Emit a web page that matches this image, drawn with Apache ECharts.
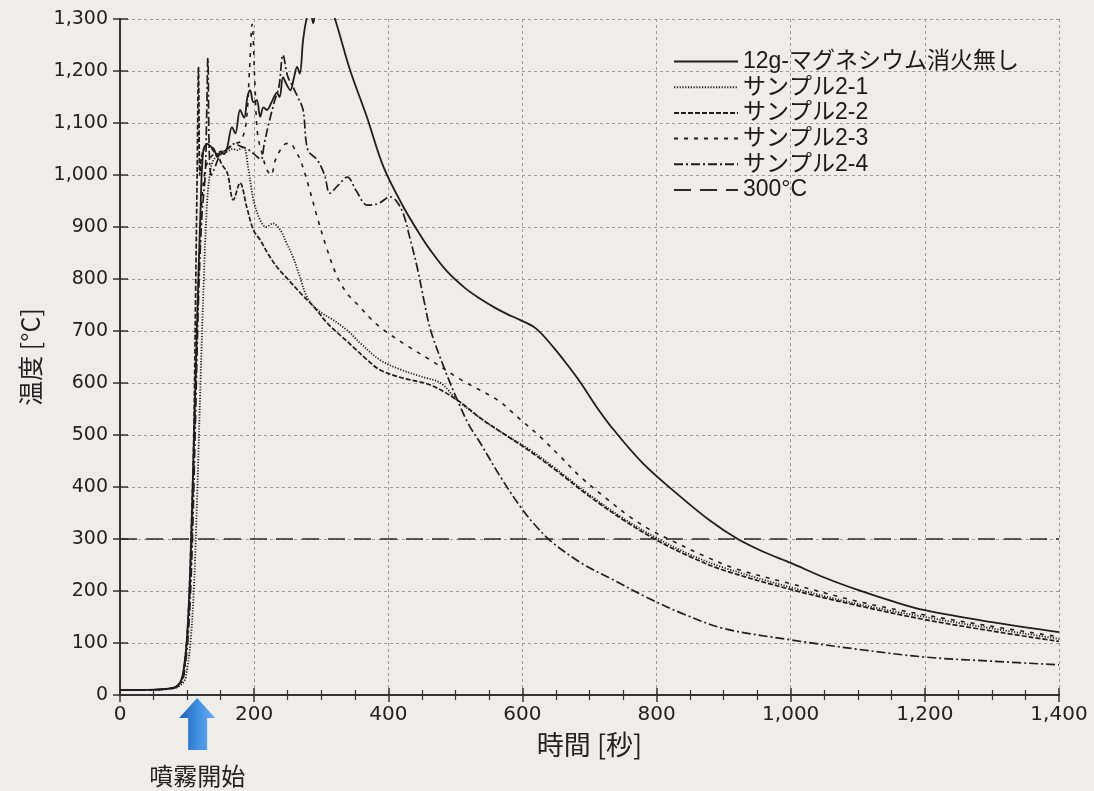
<!DOCTYPE html>
<html>
<head>
<meta charset="utf-8">
<script src="https://cdn.jsdelivr.net/npm/echarts@6/dist/echarts.min.js"></script>
<style>
  html, body { margin: 0; padding: 0; background: #eeede9; }
  #chart { width: 1094px; height: 791px; }
</style>
</head>
<body>
<div id="chart"></div>
<script>
// 12g-マグネシウム消火無し
var tNone = [0, 40, 80, 90, 95, 100, 105, 110, 115, 120, 124, 130, 135, 140, 145, 150, 155, 160, 167, 172, 179, 185, 190, 194, 199, 204, 209, 214, 219, 226, 234, 238, 243, 248, 254, 259, 264, 268, 273, 278, 283, 288, 293, 300, 310, 321, 343, 368, 393, 422, 445, 463, 488, 515, 537, 560, 578, 597, 620, 646, 667, 687, 710, 736, 780, 836, 880, 921, 960, 1000, 1050, 1100, 1150, 1200, 1300, 1400];
var vNone = [10, 10, 14, 25, 50, 110, 250, 480, 720, 930, 1045, 1060, 1055, 1050, 1035, 1045, 1040, 1054, 1092, 1080, 1125, 1110, 1150, 1163, 1140, 1144, 1112, 1130, 1125, 1140, 1158, 1150, 1188, 1175, 1163, 1185, 1208, 1195, 1260, 1300, 1320, 1292, 1330, 1340, 1335, 1298, 1202, 1112, 1015, 940, 890, 855, 814, 782, 762, 744, 732, 721, 705, 669, 635, 600, 555, 510, 445, 381, 335, 300, 275, 254, 226, 202, 181, 163, 140, 121];

// サンプル2-1
var t21 = [0, 40, 80, 95, 100, 105, 110, 115, 120, 125, 130, 135, 140, 150, 160, 168, 175, 184, 191, 199, 209, 218, 228, 239, 248, 258, 268, 279, 295, 318, 340, 358, 388, 420, 450, 478, 503, 540, 575, 612, 650, 700, 750, 800, 850, 900, 1000, 1100, 1200, 1300, 1400];
var v21 = [10, 10, 13, 25, 50, 100, 200, 380, 600, 800, 950, 1010, 1030, 1040, 1045, 1050, 1048, 1054, 1015, 952, 913, 900, 907, 894, 870, 842, 805, 765, 740, 721, 700, 677, 644, 625, 612, 600, 567, 530, 500, 471, 435, 385, 340, 302, 270, 245, 207, 175, 150, 128, 108];

// サンプル2-2
var t22 = [0, 40, 80, 92, 97, 102, 107, 110, 113, 115, 117, 119, 121, 125, 130, 135, 140, 145, 152, 160, 169, 179, 189, 199, 209, 220, 234, 250, 269, 290, 309, 330, 348, 368, 388, 420, 463, 503, 540, 575, 612, 650, 700, 750, 800, 850, 900, 1000, 1100, 1200, 1300, 1400];
var v22 = [10, 10, 14, 30, 70, 160, 350, 500, 800, 1000, 1208, 1000, 1030, 1050, 1060, 1055, 1045, 1040, 1020, 1004, 952, 985, 938, 894, 875, 850, 823, 800, 773, 745, 715, 690, 669, 645, 625, 610, 596, 567, 530, 500, 468, 432, 382, 337, 298, 266, 240, 203, 172, 145, 123, 103];

// サンプル2-3
var t23 = [0, 40, 80, 92, 97, 102, 107, 112, 117, 122, 127, 133, 140, 150, 160, 170, 180, 188, 193, 197, 201, 205, 212, 219, 225, 232, 240, 247, 254, 262, 269, 282, 294, 308, 324, 340, 358, 375, 393, 430, 463, 510, 563, 595, 627, 657, 687, 725, 761, 790, 821, 870, 920, 1000, 1100, 1200, 1300, 1400];
var v23 = [10, 10, 14, 28, 60, 140, 300, 560, 800, 950, 1010, 1030, 1040, 1045, 1050, 1060, 1065, 1100, 1200, 1290, 1180, 1080, 1040, 1010, 1000, 1030, 1050, 1060, 1061, 1045, 1029, 975, 919, 860, 804, 770, 746, 722, 702, 670, 644, 605, 567, 532, 496, 458, 419, 378, 342, 318, 298, 268, 242, 214, 180, 154, 132, 112];

// サンプル2-4
var t24 = [0, 40, 80, 92, 97, 102, 107, 112, 117, 122, 127, 129, 131, 133, 136, 140, 150, 160, 170, 180, 190, 200, 210, 215, 222, 230, 237, 243, 250, 258, 265, 273, 280, 294, 305, 313, 325, 339, 352, 369, 385, 403, 412, 422, 432, 443, 453, 463, 483, 503, 520, 537, 567, 597, 620, 646, 690, 736, 785, 836, 900, 1000, 1100, 1200, 1300, 1400];
var v24 = [10, 10, 13, 25, 55, 120, 260, 500, 760, 920, 1000, 1100, 1225, 1050, 1000, 1010, 1040, 1050, 1060, 1055, 1050, 1040, 1030, 1060, 1100, 1140, 1170, 1231, 1190, 1169, 1150, 1125, 1048, 1029, 1000, 965, 980, 996, 970, 942, 945, 958, 950, 927, 880, 823, 760, 702, 630, 567, 520, 485, 420, 362, 325, 292, 252, 221, 188, 158, 128, 106, 88, 73, 65, 58];

// 300°C
var tLimit = [0, 1400];
var vLimit = [300, 300];

var names = ['12g-マグネシウム消火無し', 'サンプル2-1', 'サンプル2-2', 'サンプル2-3', 'サンプル2-4', '300°C'];
var sprayStart = 115;

function pairs(t, v) {
    var out = [];
    for (var i = 0; i < t.length; i++) {
        out.push([t[i], v[i]]);
    }
    return out;
}

function comma(v) {
    return String(v).replace(/\B(?=(\d{3})+(?!\d))/g, ',');
}

var ink = '#1e1e1e';
var labelFont = 'DejaVu Sans';

function lineSeries(name, data, type, width) {
    return {
        name: name,
        type: 'line',
        data: data,
        symbol: 'none',
        smooth: 0.35,
        lineStyle: { color: ink, width: width, type: type },
        itemStyle: { color: ink },
        z: 3
    };
}

var chart = echarts.init(document.getElementById('chart'));

var options = {
    backgroundColor: '#eeede9',
    animation: false,
    grid: { left: 120, right: 35, top: 19, bottom: 96 },
    legend: {
        orient: 'vertical',
        left: 668,
        top: 45,
        itemWidth: 64,
        itemHeight: 14,
        itemGap: 2.7,
        data: names,
        itemStyle: { opacity: 0 },
        textStyle: { fontSize: 23, color: '#1a1a1a', fontFamily: '"Liberation Sans", "Noto Sans CJK JP"', lineHeight: 21 }
    },
    xAxis: [
        {
            type: 'value', min: 0, max: 1400, interval: 200,
            name: '時間 [秒]', nameLocation: 'middle', nameGap: 36,
            nameTextStyle: { fontSize: 27, color: '#222', fontFamily: '"Noto Sans CJK JP"' },
            axisLine: { lineStyle: { color: '#333', width: 2 } },
            axisTick: { inside: true, length: 7, lineStyle: { color: '#333', width: 1.5 } },
            minorTick: { show: true, splitNumber: 4, length: 5, lineStyle: { color: '#333', width: 1.2 } },
            axisLabel: { fontSize: 20, color: '#222', margin: 10, fontFamily: labelFont, formatter: comma },
            splitLine: { show: true, lineStyle: { color: '#9a9a9a', width: 1, type: [3, 3] } }
        },
        {
            type: 'value', min: 0, max: 1400, interval: 200, position: 'top',
            axisLine: { lineStyle: { color: '#333', width: 2 } },
            axisTick: { inside: true, length: 7, lineStyle: { color: '#333', width: 1.5 } },
            minorTick: { show: true, splitNumber: 4, length: 5, lineStyle: { color: '#333', width: 1.2 } },
            axisLabel: { show: false },
            splitLine: { show: false }
        }
    ],
    yAxis: [
        {
            type: 'value', min: 0, max: 1300, interval: 100,
            name: '温度 [°C]', nameLocation: 'middle', nameGap: 76, nameRotate: 90,
            nameTextStyle: { fontSize: 25, color: '#222', fontFamily: '"Noto Sans CJK JP"' },
            axisLine: { show: true, lineStyle: { color: '#333', width: 2 } },
            axisTick: { show: true, inside: true, length: 8, lineStyle: { color: '#333', width: 1.5 } },
            axisLabel: { fontSize: 19, color: '#222', margin: 12, fontFamily: labelFont, formatter: comma },
            splitLine: { show: true, lineStyle: { color: '#9a9a9a', width: 1, type: [3, 3] } }
        },
        {
            type: 'value', min: 0, max: 1300, interval: 100, position: 'right',
            axisLine: { show: true, lineStyle: { color: '#333', width: 2 } },
            axisTick: { show: true, inside: true, length: 7, lineStyle: { color: '#333', width: 1.5 } },
            axisLabel: { show: false },
            splitLine: { show: false }
        }
    ],
    series: [
        lineSeries(names[0], pairs(tNone, vNone), 'solid', 1.8),
        lineSeries(names[1], pairs(t21, v21), [1.2, 1.6], 1.8),
        lineSeries(names[2], pairs(t22, v22), [5, 2], 1.7),
        lineSeries(names[3], pairs(t23, v23), [4, 6], 1.6),
        lineSeries(names[4], pairs(t24, v24), [9, 3, 2, 3], 1.7),
        {
            name: names[5], type: 'line', data: pairs(tLimit, vLimit), symbol: 'none',
            lineStyle: { color: '#2a2a2a', width: 1.7, type: [17, 9] },
            itemStyle: { color: '#2a2a2a' }, z: 2
        }
    ]
};

chart.setOption(options);

// 噴霧開始 arrow under the x axis
var ax = chart.convertToPixel({ xAxisIndex: 0 }, sprayStart);
var ay = chart.convertToPixel({ yAxisIndex: 0 }, 0);
chart.setOption({
    graphic: [
        {
            type: 'polygon',
            shape: {
                points: [
                    [ax, ay + 3], [ax + 18, ay + 23], [ax + 10, ay + 23], [ax + 10, ay + 55],
                    [ax - 9, ay + 55], [ax - 9, ay + 23], [ax - 18, ay + 23]
                ]
            },
            style: {
                fill: new echarts.graphic.LinearGradient(0, 0, 1, 0, [
                    { offset: 0, color: '#1d5fb5' },
                    { offset: 0.5, color: '#3f8ee0' },
                    { offset: 1, color: '#6aaef0' }
                ])
            }
        },
        {
            type: 'text',
            x: ax,
            y: ay + 81,
            style: {
                text: '噴霧開始', fontSize: 24, fill: '#222',
                fontFamily: '"Noto Sans CJK JP"', align: 'center', verticalAlign: 'middle'
            }
        }
    ]
});

window.onresize = function () {
    chart.resize();
};
</script>
</body>
</html>
